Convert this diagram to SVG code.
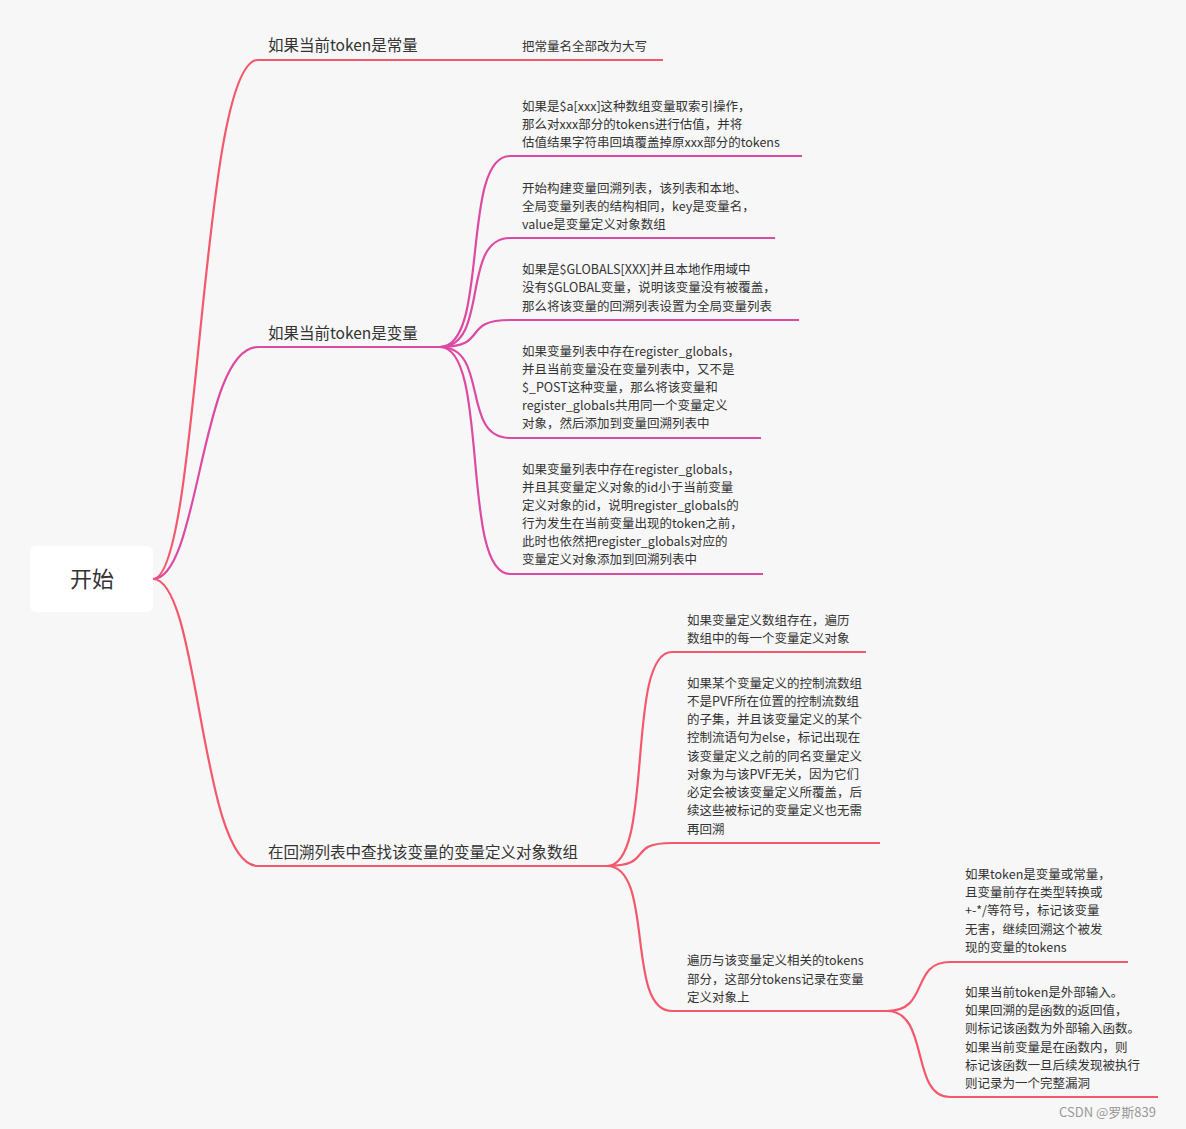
<svg xmlns="http://www.w3.org/2000/svg" width="1186" height="1129" viewBox="0 0 1186 1129">
<style>
text{font-family:"Noto Sans CJK SC","Noto Sans",sans-serif;fill:#333}
.b{font-size:15.5px}
.s{font-size:12.5px}
.r{fill:none;stroke:#f5576c;stroke-width:2.2}
.m{fill:none;stroke:#dd4aa3;stroke-width:2.2}
</style>
<rect width="1186" height="1129" fill="#f7f7f7"/>
<g id="connectors">
<path class="r" d="M153,579 C200,579 200,60 258,60 L663,60"/>
<path class="m" d="M153,579 C200,579 200,347 258,347 L440,347"/>
<path class="r" d="M153,579 C200,579 200,866 258,866 L607,866"/>
<path class="m" d="M440,347 C490,347 460,156 510,156 L802,156"/>
<path class="m" d="M440,347 C490,347 460,238 510,238 L775,238"/>
<path class="m" d="M440,347 C490,347 460,320 510,320 L799,320"/>
<path class="m" d="M440,347 C490,347 460,438 510,438 L761,438"/>
<path class="m" d="M440,347 C490,347 460,574 510,574 L763,574"/>
<path class="r" d="M607,866 C655,866 625,652 672,652 L866,652"/>
<path class="r" d="M607,866 C655,866 625,843 672,843 L880,843"/>
<path class="r" d="M607,866 C655,866 625,1011 672,1011 L887,1011"/>
<path class="r" d="M887,1011 C930,1011 910,962 950,962 L1128,962"/>
<path class="r" d="M887,1011 C930,1011 910,1097 950,1097 L1158,1097"/>
</g>
<g id="root"><rect x="30" y="546" width="123" height="66" rx="6" fill="#fff"/><text x="92" y="587" font-size="22" text-anchor="middle">开始</text></g>
<g id="n1"><text class="b" x="268" y="51">如果当前token是常量</text></g>
<g id="n1a"><text class="s" x="522" y="51">把常量名全部改为大写</text></g>
<g id="n2"><text class="b" x="268" y="339">如果当前token是变量</text></g>
<g id="n2a" class="s"><text class="s" x="522" y="111">如果是$a[xxx]这种数组变量取索引操作，</text><text class="s" x="522" y="129">那么对xxx部分的tokens进行估值，并将</text><text class="s" x="522" y="147">估值结果字符串回填覆盖掉原xxx部分的tokens</text></g>
<g id="n2b"><text class="s" x="522" y="193">开始构建变量回溯列表，该列表和本地、</text><text class="s" x="522" y="211">全局变量列表的结构相同，key是变量名，</text><text class="s" x="522" y="229">value是变量定义对象数组</text></g>
<g id="n2c"><text class="s" x="522" y="274">如果是$GLOBALS[XXX]并且本地作用域中</text><text class="s" x="522" y="292">没有$GLOBAL变量，说明该变量没有被覆盖，</text><text class="s" x="522" y="311">那么将该变量的回溯列表设置为全局变量列表</text></g>
<g id="n2d"><text class="s" x="522" y="356">如果变量列表中存在register_globals，</text><text class="s" x="522" y="374">并且当前变量没在变量列表中，又不是</text><text class="s" x="522" y="392">$_POST这种变量，那么将该变量和</text><text class="s" x="522" y="410">register_globals共用同一个变量定义</text><text class="s" x="522" y="428">对象，然后添加到变量回溯列表中</text></g>
<g id="n2e"><text class="s" x="522" y="474">如果变量列表中存在register_globals，</text><text class="s" x="522" y="492">并且其变量定义对象的id小于当前变量</text><text class="s" x="522" y="510">定义对象的id，说明register_globals的</text><text class="s" x="522" y="528">行为发生在当前变量出现的token之前，</text><text class="s" x="522" y="546">此时也依然把register_globals对应的</text><text class="s" x="522" y="564">变量定义对象添加到回溯列表中</text></g>
<g id="n3"><text class="b" x="268" y="858">在回溯列表中查找该变量的变量定义对象数组</text></g>
<g id="n3a"><text class="s" x="687" y="625">如果变量定义数组存在，遍历</text><text class="s" x="687" y="643">数组中的每一个变量定义对象</text></g>
<g id="n3b"><text class="s" x="687" y="688">如果某个变量定义的控制流数组</text><text class="s" x="687" y="706">不是PVF所在位置的控制流数组</text><text class="s" x="687" y="724">的子集，并且该变量定义的某个</text><text class="s" x="687" y="742">控制流语句为else，标记出现在</text><text class="s" x="687" y="761">该变量定义之前的同名变量定义</text><text class="s" x="687" y="779">对象为与该PVF无关，因为它们</text><text class="s" x="687" y="797">必定会被该变量定义所覆盖，后</text><text class="s" x="687" y="815">续这些被标记的变量定义也无需</text><text class="s" x="687" y="834">再回溯</text></g>
<g id="n3c"><text class="s" x="687" y="965">遍历与该变量定义相关的tokens</text><text class="s" x="687" y="984">部分，这部分tokens记录在变量</text><text class="s" x="687" y="1002">定义对象上</text></g>
<g id="n3c1"><text class="s" x="965" y="879">如果token是变量或常量，</text><text class="s" x="965" y="897">且变量前存在类型转换或</text><text class="s" x="965" y="915">+-*/等符号，标记该变量</text><text class="s" x="965" y="934">无害，继续回溯这个被发</text><text class="s" x="965" y="952">现的变量的tokens</text></g>
<g id="n3c2"><text class="s" x="965" y="997">如果当前token是外部输入。</text><text class="s" x="965" y="1015">如果回溯的是函数的返回值，</text><text class="s" x="965" y="1033">则标记该函数为外部输入函数。</text><text class="s" x="965" y="1052">如果当前变量是在函数内，则</text><text class="s" x="965" y="1070">标记该函数一旦后续发现被执行</text><text class="s" x="965" y="1088">则记录为一个完整漏洞</text></g>
<text x="1059" y="1117" font-size="13" style="fill:#999">CSDN @罗斯839</text>
</svg>
